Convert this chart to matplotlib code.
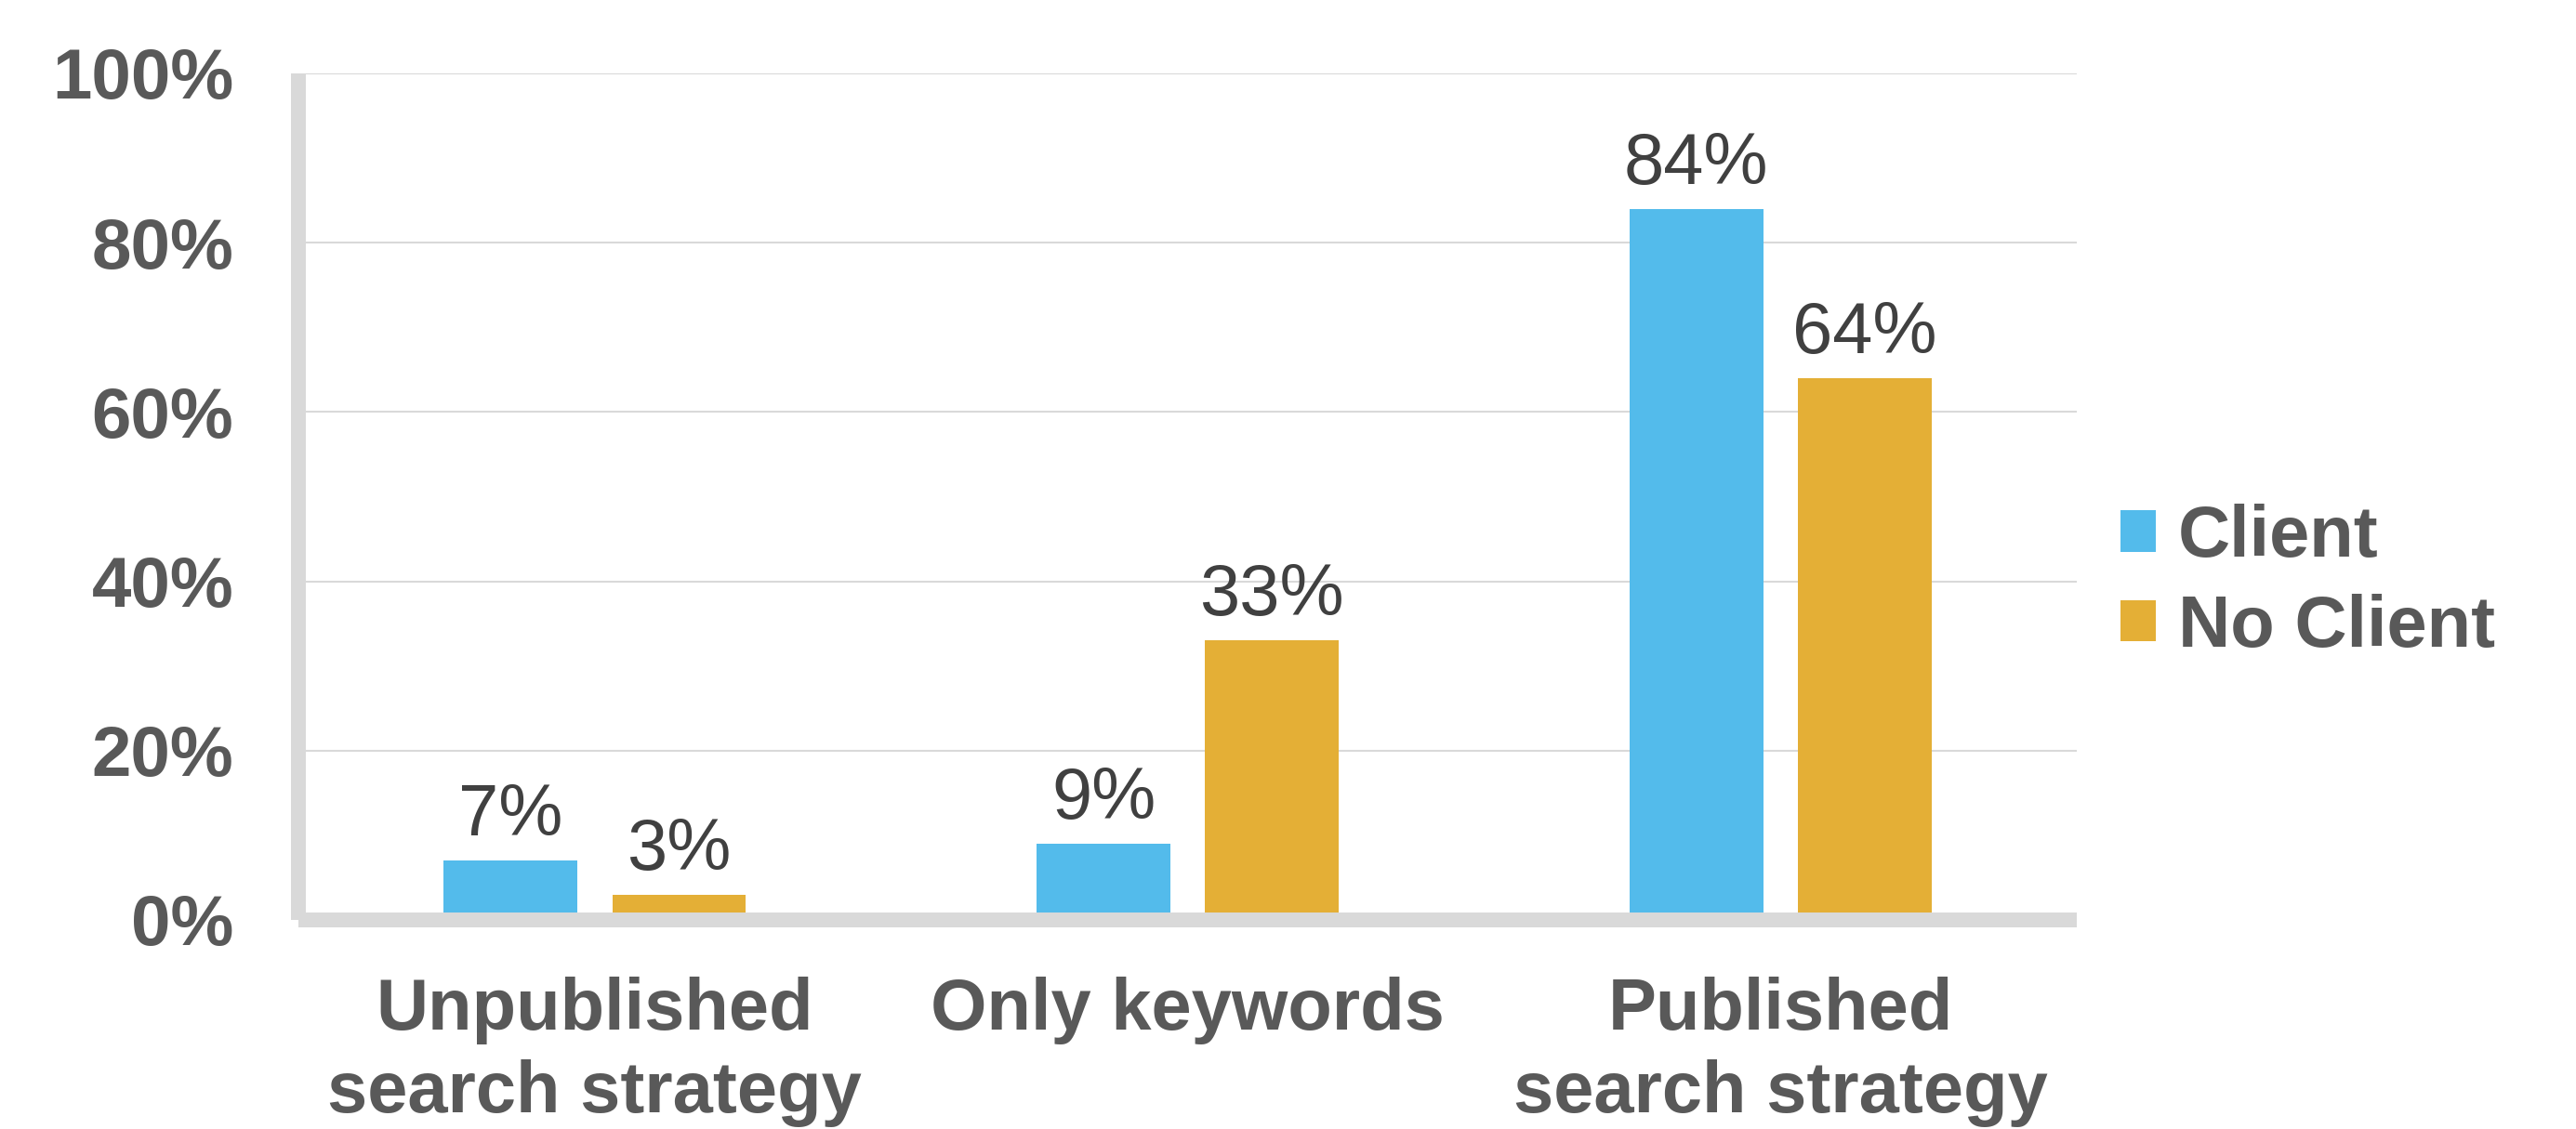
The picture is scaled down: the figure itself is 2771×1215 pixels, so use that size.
import numpy as np
import matplotlib.pyplot as plt

# data
categories = ['Unpublished\nsearch strategy', 'Only keywords', 'Published\nsearch strategy']
client = [7, 9, 84]
no_client = [3, 33, 64]
series_names = ['Client', 'No Client']
y_ticks = [0, 20, 40, 60, 80, 100]
y_tick_labels = ['0%', '20%', '40%', '60%', '80%', '100%']

BLUE = '#53BBEB'
GOLD = '#E4AF36'
GRID = '#D9D9D9'
TEXT = '#595959'
LABEL = '#404040'

plt.rcParams['font.family'] = ['Liberation Sans', 'DejaVu Sans']

fig = plt.figure(figsize=(27.71, 12.15), dpi=100)
ax = fig.add_axes([0.1158, 0.1852, 0.6905, 0.7498])

x = np.arange(len(categories))
width = 0.225
offset = 0.142

b1 = ax.bar(x - offset, client, width, color=BLUE, label=series_names[0], zorder=2)
b2 = ax.bar(x + offset, no_client, width, color=GOLD, label=series_names[1], zorder=2)

for bars in (b1, b2):
    ax.bar_label(bars, labels=[f'{v}%' for v in bars.datavalues],
                 padding=8, fontsize=56, color=LABEL)

ax.set_xlim(-0.5, 2.5)
ax.set_ylim(0, 100)
ax.set_yticks(y_ticks)
ax.set_yticklabels(y_tick_labels, fontsize=55, fontweight='bold', color=TEXT)
ax.set_xticks(x)
ax.set_xticklabels(categories, fontsize=56, fontweight='bold', color=TEXT,
                   linespacing=1.28, va='top')

ax.tick_params(axis='y', length=0, pad=50)
ax.tick_params(axis='x', length=0, pad=44)

ax.yaxis.grid(True, color=GRID, linewidth=1.5, zorder=0)
ax.set_axisbelow(True)

for side in ('top', 'right'):
    ax.spines[side].set_visible(False)
for side in ('left', 'bottom'):
    ax.spines[side].set_color(GRID)
    ax.spines[side].set_linewidth(11.5)
    ax.spines[side].set_capstyle('butt')
    ax.spines[side].set_zorder(3)

fig.legend(handles=[b1, b2], labels=series_names, loc='center left',
           bbox_to_anchor=(0.823, 0.484), frameon=False,
           prop={'size': 56, 'weight': 'bold'}, labelcolor=TEXT,
           handlelength=0.5, handleheight=0.5, handletextpad=0.3,
           labelspacing=0.3, borderaxespad=0, borderpad=0)

fig.savefig('out.png', dpi=100, facecolor='white')
